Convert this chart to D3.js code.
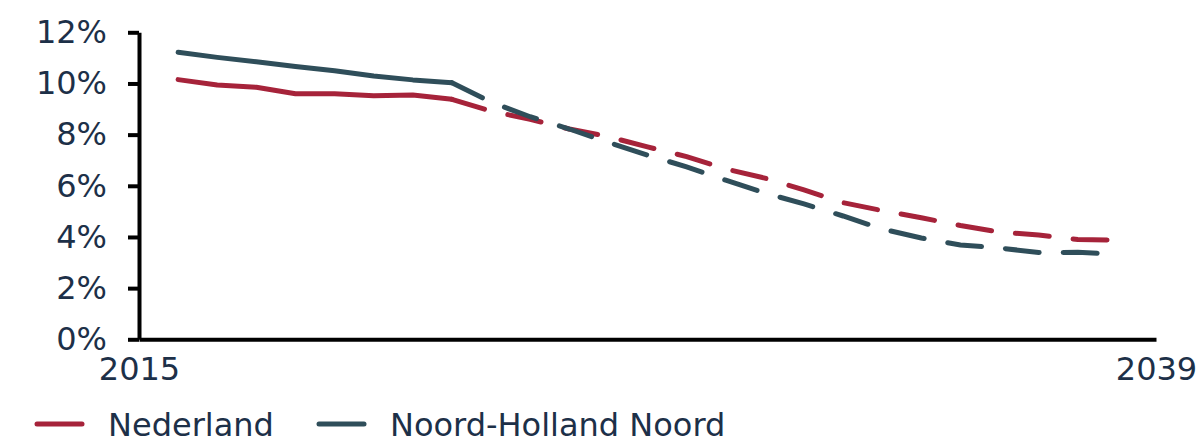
<!DOCTYPE html>
<html>
<head>
<meta charset="utf-8">
<script src="https://cdn.jsdelivr.net/npm/d3@7"></script>
<style>
  html, body { margin: 0; padding: 0; background: #ffffff; }
  svg { display: block; font-family: "DejaVu Sans", Verdana, sans-serif; }
</style>
</head>
<body>
<svg id="chart" width="1201" height="444"></svg>
<script>
// ---- data ----
const yearIndex = d3.range(0, 25);          // 25 yearly points
const lastObserved = 7;                     // solid up to this index, dashed after
const nederland = [10.15, 9.94, 9.85, 9.60, 9.60, 9.52, 9.55, 9.38,
                   8.92, 8.60, 8.22, 7.92, 7.52, 7.14, 6.66, 6.30, 5.84, 5.34,
                   5.03, 4.75, 4.45, 4.19, 4.08, 3.90, 3.88];
const noordHolland = [11.22, 11.02, 10.85, 10.66, 10.50, 10.29, 10.14, 10.03,
                      9.27, 8.70, 8.22, 7.70, 7.20, 6.74, 6.22, 5.72, 5.29, 4.82,
                      4.31, 3.96, 3.69, 3.57, 3.39, 3.40, 3.33];
const yTicks = [0, 2, 4, 6, 8, 10, 12];
const xTickLabels = ["2015", "2039"];
const seriesNames = ["Nederland", "Noord-Holland Noord"];
const seriesColors = ["#a6233a", "#2f4e5a"];

// ---- layout ----
const svg = d3.select("#chart");
const textColor = "#1d3048";
const x = d3.scaleLinear().domain([-1, 25]).range([139, 1156]);
const y = d3.scaleLinear().domain([0, 12]).range([339.3, 32.3]);

// y axis
const yAxis = svg.append("g")
  .attr("transform", `translate(${x(-1)},0)`)
  .call(d3.axisLeft(y).tickValues(yTicks).tickSize(11).tickSizeOuter(0)
        .tickPadding(21).tickFormat(d => d + "%"));
yAxis.select(".domain").attr("stroke", "#000").attr("stroke-width", 4);
yAxis.selectAll(".tick line").attr("stroke", "#000").attr("stroke-width", 4);
yAxis.selectAll("text").attr("fill", textColor).style("font-size", "32px")
  .style("font-family", "'DejaVu Sans', Verdana, sans-serif");

// x axis
const xAxis = svg.append("g")
  .attr("transform", `translate(0,${y(0)})`)
  .call(d3.axisBottom(x).tickValues([-1, 25]).tickSize(0).tickSizeOuter(0)
        .tickPadding(18).tickFormat((d, i) => xTickLabels[i]));
xAxis.select(".domain").attr("stroke", "#000").attr("stroke-width", 4);
xAxis.selectAll("text").attr("fill", textColor).style("font-size", "32px")
  .style("font-family", "'DejaVu Sans', Verdana, sans-serif");

// lines
const line = d3.line().x(d => x(d.i)).y(d => y(d.v));
[nederland, noordHolland].forEach((vals, k) => {
  const pts = vals.map((v, i) => ({ i: yearIndex[i], v }));
  svg.append("path")
    .datum(pts.slice(0, lastObserved + 1))
    .attr("d", line)
    .attr("fill", "none")
    .attr("stroke", seriesColors[k])
    .attr("stroke-width", 5)
    .attr("stroke-linecap", "round")
    .attr("stroke-linejoin", "round");
  svg.append("path")
    .datum(pts.slice(lastObserved))
    .attr("d", line)
    .attr("fill", "none")
    .attr("stroke", seriesColors[k])
    .attr("stroke-width", 5)
    .attr("stroke-linecap", "round")
    .attr("stroke-dasharray", "34,24");
});

// legend
const legendX = [37, 319];
const legend = svg.append("g");
seriesNames.forEach((name, k) => {
  legend.append("line")
    .attr("x1", legendX[k]).attr("x2", legendX[k] + 45)
    .attr("y1", 424).attr("y2", 424)
    .attr("stroke", seriesColors[k]).attr("stroke-width", 5)
    .attr("stroke-linecap", "round");
  legend.append("text")
    .attr("x", legendX[k] + 71).attr("y", 436)
    .attr("fill", textColor).style("font-size", "32px")
    .text(name);
});
</script>
</body>
</html>
